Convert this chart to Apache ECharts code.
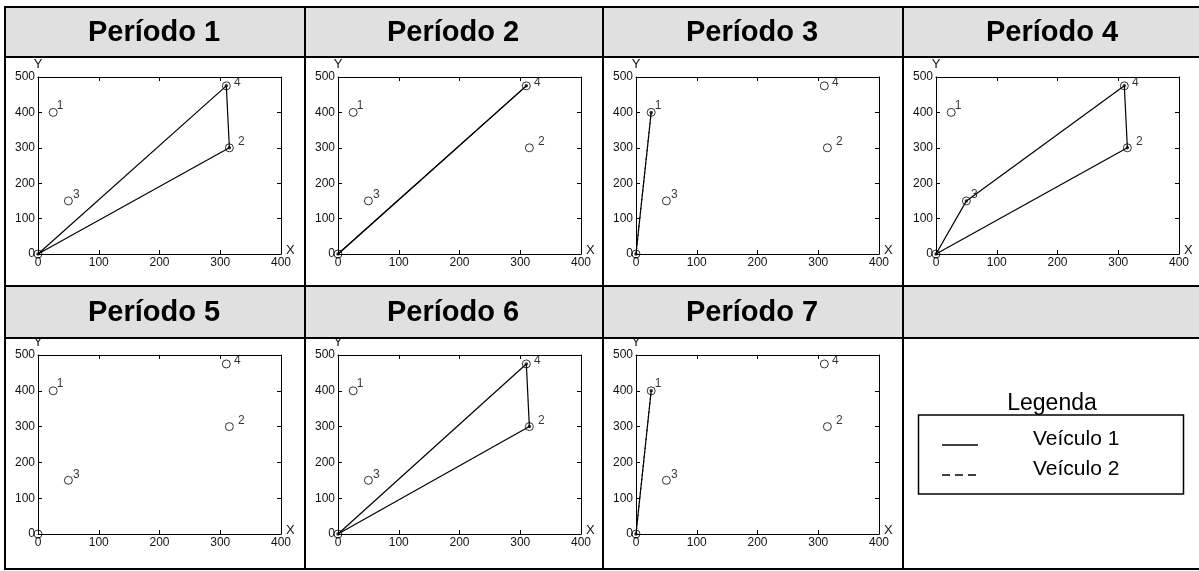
<!DOCTYPE html>
<html><head><meta charset="utf-8">
<script src="https://cdn.jsdelivr.net/npm/echarts@6/dist/echarts.min.js"></script>
<style>html,body{margin:0;padding:0;background:#fff}#c{width:1199px;height:571px}</style>
</head><body><div id="c"></div>
<script>
// ---- data ----
const periods = ['Período 1','Período 2','Período 3','Período 4','Período 5','Período 6','Período 7'];
const nodeIds = ['0','1','2','3','4'];
const nodeX = [0, 25, 315, 50, 310];
const nodeY = [0, 400, 300, 150, 475];
const routesV1 = [[0,4,2,0],[0,4,0],[],[0,3,4,2,0],[],[0,4,2,0],[]];
const routesV2 = [[],[],[0,1,0],[],[],[],[0,1,0]];
const xTicks = [0,100,200,300,400];
const yTicks = [0,100,200,300,400,500];
const legendTitle = 'Legenda';
const legendItems = ['Veículo 1','Veículo 2'];

// ---- layout / style ----
const FONT = 'Liberation Sans, Arial, sans-serif';
const colX = [5, 305, 603, 903];
const rowHeadTop = [7, 286], rowHeadBot = [57, 338];
const plotTop = [77, 355], plotH = [177, 179];
const plotOff = 33, plotW = 243;
const labelOffset = {1:[7,-7], 2:[12,-6], 3:[8,-6], 4:[11,-3]};

const chart = echarts.init(document.getElementById('c'));
const grids = [], xAxes = [], yAxes = [], series = [];

periods.forEach((p, i) => {
  const r = Math.floor(i / 4), c = i % 4;
  grids.push({left: colX[c] + plotOff, top: plotTop[r], width: plotW, height: plotH[r], show: false});
  const axLine = {show: true, onZero: false, lineStyle: {color: '#000', width: 1}};
  const tick = {show: true, inside: true, length: 4, lineStyle: {color: '#000', width: 1}};
  const lab = {fontSize: 12, color: '#111', fontFamily: FONT};
  const xr = {min: xTicks[0], max: xTicks[xTicks.length-1], interval: xTicks[1]-xTicks[0]};
  const yr = {min: yTicks[0], max: yTicks[yTicks.length-1], interval: yTicks[1]-yTicks[0]};
  xAxes.push(Object.assign({type: 'value', gridIndex: i, position: 'bottom',
    axisLine: axLine, axisTick: tick, splitLine: {show: false}, axisLabel: Object.assign({margin: 3}, lab),
    name: 'X', nameLocation: 'end', nameGap: 5, nameTextStyle: {fontSize: 13, color: '#111', fontFamily: FONT, verticalAlign: 'bottom', lineHeight: 8}}, xr));
  xAxes.push(Object.assign({type: 'value', gridIndex: i, position: 'top',
    axisLine: axLine, axisTick: tick, splitLine: {show: false}, axisLabel: {show: false}}, xr));
  yAxes.push(Object.assign({type: 'value', gridIndex: i, position: 'left',
    axisLine: axLine, axisTick: tick, splitLine: {show: false}, axisLabel: Object.assign({margin: 3}, lab),
    name: 'Y', nameLocation: 'end', nameGap: 0, nameTextStyle: {fontSize: 13, color: '#111', fontFamily: FONT, lineHeight: 10}}, yr));
  yAxes.push(Object.assign({type: 'value', gridIndex: i, position: 'right',
    axisLine: axLine, axisTick: tick, splitLine: {show: false}, axisLabel: {show: false}}, yr));

  const xi = 2*i, yi = 2*i;
  const visited = new Set();
  [[routesV1[i], false], [routesV2[i], true]].forEach(([rt, dashed]) => {
    if (!rt.length) return;
    rt.forEach(n => visited.add(n));
    for (let k = 0; k + 1 < rt.length; k++) {
      const a = Math.min(rt[k], rt[k+1]), b = Math.max(rt[k], rt[k+1]);
      series.push({type: 'line', xAxisIndex: xi, yAxisIndex: yi, showSymbol: false, symbol: 'none', silent: true, animation: false, z: 2,
        data: [[nodeX[a], nodeY[a]], [nodeX[b], nodeY[b]]],
        lineStyle: {color: '#000', width: 1.2, type: dashed ? [6, 3] : 'solid', dashOffset: dashed ? (k % 2) * 4.5 : 0}});
    }
  });
  series.push({type: 'scatter', xAxisIndex: xi, yAxisIndex: yi, symbol: 'circle', symbolSize: 8, animation: false, z: 3,
    itemStyle: {color: 'rgba(0,0,0,0)', borderColor: '#000', borderWidth: 1},
    data: nodeIds.map((id, k) => ({name: id, value: [nodeX[k], nodeY[k]],
      label: labelOffset[k] ? {show: true, position: 'inside', offset: labelOffset[k], formatter: '{b}', fontSize: 12, color: '#000', fontFamily: FONT} : {show: false}}))});
  series.push({type: 'scatter', xAxisIndex: xi, yAxisIndex: yi, symbol: 'circle', symbolSize: 3.5, animation: false, z: 4,
    itemStyle: {color: '#000'},
    data: [...visited].map(k => [nodeX[k], nodeY[k]])});
});

// ---- table graphics ----
const g = [];
const right = 1199;
rowHeadTop.forEach((t, r) => {
  g.push({type: 'rect', shape: {x: colX[0], y: t, width: right - colX[0], height: rowHeadBot[r] - t}, style: {fill: '#e0e0e0'}, z: -1});
});
periods.forEach((p, i) => {
  const r = Math.floor(i / 4), c = i % 4;
  const cx = (colX[c] + (colX[c+1] || colX[c] + 300)) / 2 - 1;
  g.push({type: 'text', x: cx, y: (rowHeadTop[r] + rowHeadBot[r]) / 2 + 1, style: {text: p, font: 'bold 29px ' + FONT, fill: '#000', textAlign: 'center', textVerticalAlign: 'middle'}, z: 5});
});
const hl = [7, 57, 286, 338, 569];
hl.forEach(y => g.push({type: 'line', shape: {x1: colX[0] - 1, y1: y, x2: right, y2: y}, style: {stroke: '#000', lineWidth: 2}, z: 6}));
colX.forEach(x => g.push({type: 'line', shape: {x1: x, y1: 6, x2: x, y2: 570}, style: {stroke: '#000', lineWidth: 2}, z: 6}));
// legend
g.push({type: 'text', x: 1052, y: 404, style: {text: legendTitle, font: '23px ' + FONT, fill: '#000', textAlign: 'center', textVerticalAlign: 'middle'}, z: 5});
g.push({type: 'rect', shape: {x: 918.5, y: 415, width: 265, height: 79}, style: {fill: 'none', stroke: '#000', lineWidth: 1.5}, z: 5});
legendItems.forEach((t, k) => {
  const y = 445 + 30 * k;
  g.push({type: 'line', shape: {x1: 942, y1: y, x2: 978, y2: y}, style: {stroke: '#000', lineWidth: 1.3, lineDash: k ? [8, 5] : null}, z: 5});
  g.push({type: 'text', x: 1033, y: y - 6, style: {text: t, font: '21px ' + FONT, fill: '#000', textAlign: 'left', textVerticalAlign: 'middle'}, z: 5});
});

chart.setOption({
  animation: false,
  backgroundColor: '#fff',
  grid: grids, xAxis: xAxes, yAxis: yAxes, series: series, graphic: g
});
</script></body></html>
